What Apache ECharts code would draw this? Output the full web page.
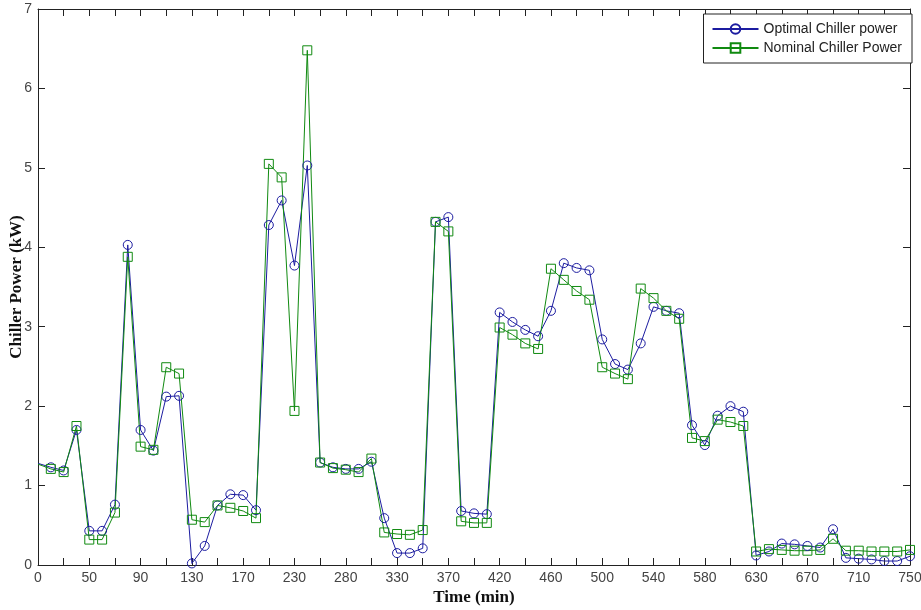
<!DOCTYPE html>
<html>
<head>
<meta charset="utf-8">
<title>Chiller Power</title>
<script src="https://cdn.jsdelivr.net/npm/echarts@6/dist/echarts.min.js"></script>
<style>
  html, body { margin: 0; padding: 0; background: #fff; }
  #chart { width: 921px; height: 610px; }
</style>
</head>
<body>
<div id="chart"></div>
<script>
// Tick labels printed under every fourth sample along the time axis
const timeTickLabels = ['0', '50', '90', '130', '170', '230', '280', '330', '370',
  '420', '460', '500', '540', '580', '630', '670', '710', '750'];

// Chiller power per sample (kW)
const optimalPower = [
  1.28, 1.23, 1.19, 1.70, 0.43, 0.43, 0.76, 4.03, 1.70, 1.44,
  2.12, 2.13, 0.02, 0.24, 0.75, 0.89, 0.88, 0.69, 4.28, 4.59,
  3.77, 5.03, 1.29, 1.23, 1.21, 1.21, 1.30, 0.59, 0.15, 0.15,
  0.21, 4.32, 4.38, 0.68, 0.65, 0.64, 3.18, 3.06, 2.96, 2.88,
  3.20, 3.80, 3.74, 3.71, 2.84, 2.53, 2.46, 2.79, 3.25, 3.20,
  3.17, 1.76, 1.51, 1.88, 2.00, 1.93, 0.12, 0.17, 0.27, 0.26,
  0.24, 0.22, 0.45, 0.09, 0.08, 0.07, 0.05, 0.05, 0.11
];
const nominalPower = [
  1.27, 1.21, 1.17, 1.75, 0.32, 0.32, 0.66, 3.88, 1.49, 1.45,
  2.49, 2.41, 0.57, 0.54, 0.75, 0.72, 0.68, 0.59, 5.05, 4.88,
  1.94, 6.48, 1.29, 1.22, 1.20, 1.17, 1.34, 0.41, 0.39, 0.38,
  0.44, 4.32, 4.20, 0.55, 0.53, 0.53, 2.99, 2.90, 2.79, 2.72,
  3.73, 3.59, 3.45, 3.34, 2.49, 2.41, 2.34, 3.48, 3.36, 3.20,
  3.10, 1.60, 1.56, 1.83, 1.80, 1.75, 0.17, 0.20, 0.19, 0.18,
  0.18, 0.19, 0.33, 0.18, 0.18, 0.17, 0.17, 0.17, 0.19
];

const BLUE = '#1c1ca0';
const GREEN = '#108a10';
const AXIS = '#222';
const TICKTXT = '#444';

// Pair each value with its sample index; the sample on the left frame edge carries no marker
const toPoints = arr => arr.map((v, i) => (i === 0 ? { value: [i, v], symbol: 'none' } : [i, v]));
const lastIndex = optimalPower.length - 1;

const chart = echarts.init(document.getElementById('chart'), null, { renderer: 'canvas' });

const baseX = {
  type: 'value', min: 0, max: lastIndex, interval: 2,
  axisLine: { show: true, onZero: false, lineStyle: { color: AXIS, width: 1 } },
  axisTick: { show: true, inside: true, length: 7, lineStyle: { color: AXIS } },
  splitLine: { show: false }
};
const baseY = {
  type: 'value', min: 0, max: 7, interval: 1,
  axisLine: { show: true, onZero: false, lineStyle: { color: AXIS, width: 1 } },
  axisTick: { show: true, inside: true, length: 7, lineStyle: { color: AXIS } },
  splitLine: { show: false }
};

chart.setOption({
  animation: false,
  backgroundColor: '#fff',
  grid: { left: 38, right: 11, top: 9, bottom: 45, containLabel: false, outerBoundsMode: 'none' },
  legend: {
    orient: 'vertical',
    right: 9, top: 14,
    padding: [8, 10, 8, 8],
    itemGap: 5,
    itemWidth: 46,
    itemHeight: 12,
    backgroundColor: '#fff',
    borderColor: '#222',
    borderWidth: 1,
    borderRadius: 0,
    textStyle: { fontFamily: 'Liberation Sans, Arial, sans-serif', fontSize: 14, color: '#222' },
    data: ['Optimal Chiller power', 'Nominal Chiller Power']
  },
  xAxis: [
    Object.assign({}, baseX, {
      position: 'bottom',
      name: 'Time (min)',
      nameLocation: 'middle',
      nameGap: 24,
      nameMoveOverlap: false,
      nameTextStyle: { fontFamily: 'Liberation Serif, serif', fontWeight: 'bold', fontSize: 17, color: '#111' },
      axisLabel: {
        show: true, margin: 6, color: TICKTXT,
        fontFamily: 'Liberation Sans, Arial, sans-serif', fontSize: 14,
        formatter: v => (v % 4 === 0 ? timeTickLabels[v / 4] : '')
      }
    }),
    Object.assign({}, baseX, { position: 'top', axisLabel: { show: false } })
  ],
  yAxis: [
    Object.assign({}, baseY, {
      position: 'left',
      name: 'Chiller Power (kW)',
      nameLocation: 'middle',
      nameGap: 13,
      nameMoveOverlap: false,
      nameTextStyle: { fontFamily: 'Liberation Serif, serif', fontWeight: 'bold', fontSize: 17, color: '#111' },
      axisLabel: {
        show: true, margin: 6, color: TICKTXT,
        fontFamily: 'Liberation Sans, Arial, sans-serif', fontSize: 14
      }
    }),
    Object.assign({}, baseY, { position: 'right', axisLabel: { show: false } })
  ],
  series: [
    {
      name: 'Optimal Chiller power',
      type: 'line',
      xAxisIndex: 0, yAxisIndex: 0,
      data: toPoints(optimalPower),
      symbol: 'circle',
      symbolSize: 9,
      showAllSymbol: true,
      lineStyle: { color: BLUE, width: 1 },
      itemStyle: { color: 'rgba(255,255,255,0)', borderColor: BLUE, borderWidth: 1 },
      emphasis: { disabled: true }
    },
    {
      name: 'Nominal Chiller Power',
      type: 'line',
      xAxisIndex: 0, yAxisIndex: 0,
      data: toPoints(nominalPower),
      symbol: 'rect',
      symbolSize: 9,
      showAllSymbol: true,
      lineStyle: { color: GREEN, width: 1 },
      itemStyle: { color: 'rgba(255,255,255,0)', borderColor: GREEN, borderWidth: 1 },
      emphasis: { disabled: true }
    }
  ]
});
</script>
</body>
</html>
